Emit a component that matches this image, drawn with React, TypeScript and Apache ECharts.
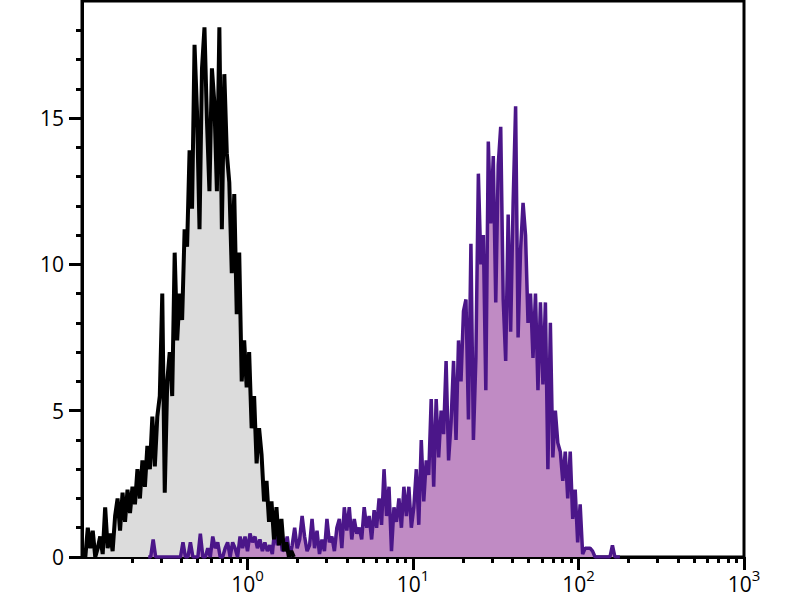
import React, { useEffect, useRef } from "react";
import * as echarts from "echarts";

// Histogram channels are evenly spaced in log10 units (channel grid).
const LOG_STEP = 0.015;

// Unstained control (grey fill, black outline)
const CONTROL_LOG_START = -0.98;
const CONTROL_COUNTS = [
  0.0, 1.0, 0.3, 0.9, 0.0, 0.3, 0.7, 0.1, 1.7, 0.3,
  0.8, 0.2, 1.4, 2.0, 0.9, 2.2, 1.2, 2.3, 1.5, 2.4,
  1.8, 3.0, 2.0, 3.3, 2.4, 3.8, 3.0, 4.8, 3.1, 4.8,
  5.5, 9.0, 2.2, 6.0, 7.0, 5.5, 10.4, 7.4, 9.0, 8.1,
  11.2, 10.6, 13.9, 11.9, 17.5, 15.2, 11.2, 16.7, 18.1, 14.9,
  12.5, 16.7, 15.5, 12.5, 18.1, 11.2, 16.5, 13.8, 12.8, 9.7,
  12.4, 8.3, 10.4, 6.0, 7.4, 5.8, 7.0, 4.4, 5.5, 3.2,
  4.4, 3.5, 1.9, 2.6, 1.2, 1.9, 0.6, 1.7, 0.4, 1.3,
  0.2, 0.5, 0.0, 0.2, 0.0,
];

// Stained sample (purple fill, dark purple outline)
const STAINED_LOG_START = -0.6;
const STAINED_COUNTS = [
  0, 0, 0.6, 0, 0, 0, 0, 0, 0, 0,
  0, 0, 0, 0, 0.5, 0, 0, 0.5, 0, 0,
  0, 0.8, 0, 0, 0.3, 0, 0.7, 0.3, 0.5, 0,
  0, 0.3, 0.5, 0, 0.5, 0.3, 0, 0.7, 0.3, 0.7,
  0.2, 0.8, 0.5, 0.7, 0.3, 0.6, 0.2, 0.5, 0.2, 0.4,
  0.1, 1.0, 0.4, 1.0, 0.2, 0.3, 0.7, 0, 0.4, 1.0,
  0.3, 0.6, 1.4, 0.7, 0.2, 0.4, 1.3, 0.3, 0.9, 0.1,
  0.6, 0.2, 1.3, 0.5, 0.7, 0.2, 1.0, 1.3, 0.3, 1.7,
  0.9, 1.7, 0.6, 1.3, 0.8, 1.0, 0.6, 1.7, 1.0, 1.4,
  0.6, 1.6, 1.0, 2.0, 1.1, 3.0, 1.4, 2.4, 0.2, 1.7,
  1.2, 2.0, 1.0, 2.4, 1.4, 2.4, 1.0, 1.7, 3.0, 1.1,
  4.0, 1.9, 3.3, 2.8, 5.4, 2.4, 5.4, 3.4, 5.0, 4.2,
  6.7, 3.3, 4.6, 6.7, 4.0, 7.4, 6.0, 8.4, 8.8, 4.7,
  10.7, 4.0, 6.8, 13.1, 10.0, 11.0, 5.7, 14.2, 11.4, 13.7,
  8.7, 13.4, 14.7, 8.8, 6.7, 11.7, 7.7, 12.1, 15.4, 7.5,
  10.5, 12.1, 11.0, 8.0, 9.0, 6.8, 9.0, 5.7, 8.7, 5.9,
  8.7, 3.0, 8.0, 3.4, 5.0, 3.9, 3.6, 2.6, 3.6, 2.0,
  3.6, 1.3, 2.3, 0.5, 1.8, 0.1, 0.3, 0.3, 0.3, 0.2,
  0, 0, 0, 0, 0, 0, 0, 0.4, 0, 0, 0,
];

const X_MAJOR_TICKS = [1, 10, 100, 1000];
const X_MINOR_TICKS = [
  0.2, 0.3, 0.4, 0.5, 0.6, 0.7, 0.8, 0.9,
  2, 3, 4, 5, 6, 7, 8, 9,
  20, 30, 40, 50, 60, 70, 80, 90,
  200, 300, 400, 500, 600, 700, 800, 900,
];
const Y_MAJOR_TICKS = [0, 5, 10, 15];
const Y_MINOR_TICKS = [1, 2, 3, 4, 6, 7, 8, 9, 11, 12, 13, 14, 16, 17, 18];

const FONT = "'Open Sans', 'Noto Sans', sans-serif";
const CONTROL_FILL = "#dcdcdc";
const CONTROL_LINE = "#000000";
const STAINED_FILL = "#c08bc4";
const STAINED_LINE = "#4b1689";

function toPairs(logStart: number, counts: number[]) {
  return counts.map((c, i) => [Math.pow(10, logStart + i * LOG_STEP), c]);
}

export default function App() {
  const ref = useRef<HTMLDivElement>(null);

  useEffect(() => {
    if (!ref.current) return;
    const chart = echarts.init(ref.current, undefined, { renderer: "svg" });
    const controlData = toPairs(CONTROL_LOG_START, CONTROL_COUNTS);
    const stainedData = toPairs(STAINED_LOG_START, STAINED_COUNTS);
    const axisLineStyle = { color: "#000", width: 3 };

    chart.setOption({
      animation: false,
      backgroundColor: "#ffffff",
      grid: {
        left: 82,
        right: 56,
        top: 1,
        bottom: 43,
        show: true,
        borderColor: "#000",
        borderWidth: 3,
        backgroundColor: "transparent",
      },
      xAxis: [
        {
          type: "log",
          logBase: 10,
          min: 0.1,
          max: 1000,
          position: "bottom",
          axisLine: { show: true, onZero: false, lineStyle: axisLineStyle },
          axisTick: {
            show: true,
            customValues: X_MAJOR_TICKS,
            length: 13,
            lineStyle: { color: "#000", width: 3 },
          },
          axisLabel: {
            show: true,
            customValues: X_MAJOR_TICKS,
            margin: 15,
            formatter: (v: number) => `{b|10}{s|${Math.round(Math.log10(v))}}`,
            rich: {
              b: {
                fontFamily: FONT,
                fontSize: 21,
                lineHeight: 22,
                color: "#000",
                verticalAlign: "bottom",
              },
              s: {
                fontFamily: FONT,
                fontSize: 15,
                lineHeight: 15,
                color: "#000",
                verticalAlign: "bottom",
                padding: [0, 0, 12, 0],
              },
            },
          },
          splitLine: { show: false },
          minorTick: { show: false },
        },
        {
          type: "log",
          logBase: 10,
          min: 0.1,
          max: 1000,
          position: "bottom",
          axisLine: { show: false },
          axisTick: {
            show: true,
            customValues: X_MINOR_TICKS,
            length: 6,
            lineStyle: { color: "#000", width: 3 },
          },
          axisLabel: { show: false },
          splitLine: { show: false },
        },
      ],
      yAxis: [
        {
          type: "value",
          min: 0,
          max: 19,
          position: "left",
          axisLine: { show: true, onZero: false, lineStyle: axisLineStyle },
          axisTick: {
            show: true,
            customValues: Y_MAJOR_TICKS,
            length: 13,
            lineStyle: { color: "#000", width: 3 },
          },
          axisLabel: {
            show: true,
            customValues: Y_MAJOR_TICKS,
            margin: 18,
            fontFamily: FONT,
            fontSize: 21,
            color: "#000",
          },
          splitLine: { show: false },
        },
        {
          type: "value",
          min: 0,
          max: 19,
          position: "left",
          axisLine: { show: false },
          axisTick: {
            show: true,
            customValues: Y_MINOR_TICKS,
            length: 6,
            lineStyle: { color: "#000", width: 3 },
          },
          axisLabel: { show: false },
          splitLine: { show: false },
        },
      ],
      series: [
        {
          name: "Control fill",
          type: "line",
          xAxisIndex: 0,
          yAxisIndex: 0,
          data: controlData,
          showSymbol: false,
          symbol: "none",
          lineStyle: { width: 0, opacity: 0 },
          areaStyle: { color: CONTROL_FILL, opacity: 1 },
          z: 2,
        },
        {
          name: "Stained",
          type: "line",
          xAxisIndex: 0,
          yAxisIndex: 0,
          data: stainedData,
          showSymbol: false,
          symbol: "none",
          lineStyle: { width: 3.5, color: STAINED_LINE },
          areaStyle: { color: STAINED_FILL, opacity: 1 },
          z: 3,
        },
        {
          name: "Control",
          type: "line",
          xAxisIndex: 0,
          yAxisIndex: 0,
          data: controlData,
          showSymbol: false,
          symbol: "none",
          lineStyle: { width: 4, color: CONTROL_LINE },
          z: 4,
        },
      ],
    });

    return () => chart.dispose();
  }, []);

  return (
    <div
      ref={ref}
      style={{ position: "absolute", left: 0, top: 0, width: 800, height: 600, background: "#fff" }}
    />
  );
}
